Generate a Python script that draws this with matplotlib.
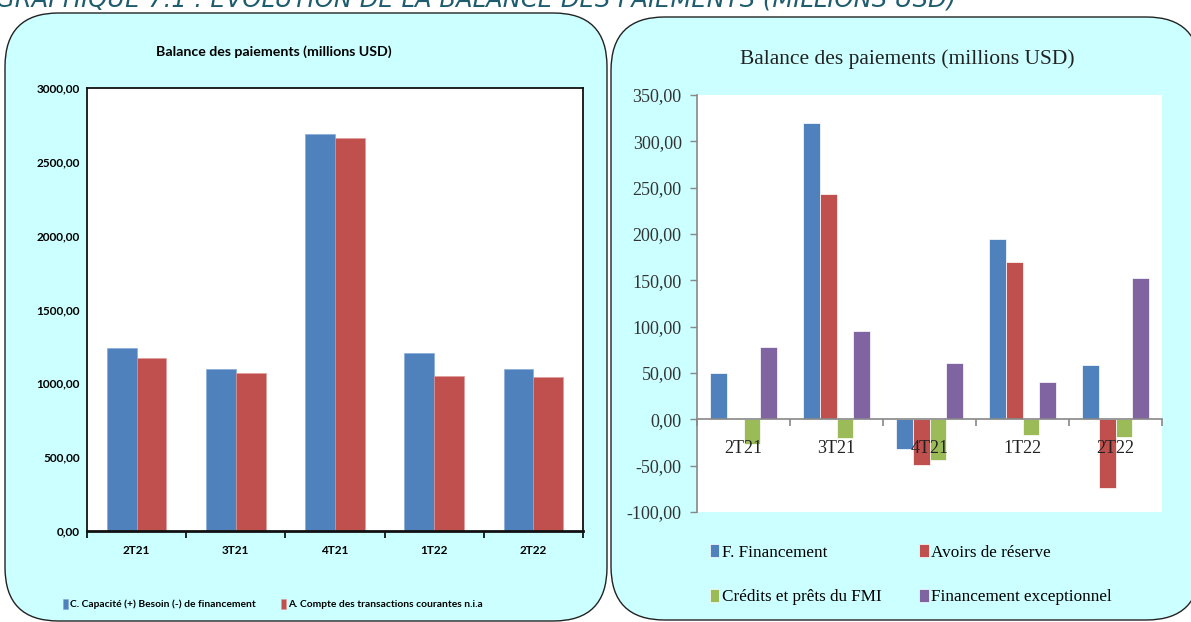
import matplotlib
matplotlib.use('Agg')
import matplotlib.pyplot as plt
from matplotlib.patches import FancyBboxPatch
import numpy as np

# ── Data ──────────────────────────────────────────────────────
quarters = ['2T21', '3T21', '4T21', '1T22', '2T22']

capacite = [1241, 1099, 2687, 1205, 1096]
compte_courant = [1171, 1067, 2664, 1047, 1042]

f_financement = [50.4, 319.4, -31.7, 194.1, 58.7]
avoirs_reserve = [0.0, 243.4, -49.3, 170.3, -74.2]
credits_fmi = [-26.3, -20.2, -43.6, -16.6, -19.1]
fin_exceptionnel = [78.1, 95.1, 60.9, 40.3, 152.0]

left_ticks = [0, 500, 1000, 1500, 2000, 2500, 3000]
right_ticks = [-100, -50, 0, 50, 100, 150, 200, 250, 300, 350]

# ── Style ─────────────────────────────────────────────────────
BLUE, RED, GREEN, PURPLE = '#4F81BD', '#C0504D', '#9BBB59', '#8064A2'
PANEL = '#CCFFFF'
W, H = 1191, 622

def fx(px): return px / W
def fy(py): return 1 - py / H

fig = plt.figure(figsize=(W / 100, H / 100), dpi=100, facecolor='white')

# header text, cut at the top edge as in the source page
fig.text(fx(-4), fy(6), 'GRAPHIQUE 7.1 : EVOLUTION DE LA BALANCE DES PAIEMENTS (MILLIONS USD)',
         fontsize=17.5, style='italic', color='#1F5C6E', family='DejaVu Sans',
         ha='left', va='baseline')

# rounded panels
for x0, y0, x1, y1 in [(5, 13, 607, 621), (611, 17, 1200, 620)]:
    fig.patches.append(FancyBboxPatch(
        (fx(x0), fy(y1)), fx(x1 - x0), (y1 - y0) / H,
        boxstyle='round,pad=0,rounding_size=0.045', transform=fig.transFigure,
        facecolor=PANEL, edgecolor='#222222', linewidth=1.0, zorder=-5,
        mutation_aspect=W / H))

x = np.arange(len(quarters))

# ── Left chart ────────────────────────────────────────────────
SANS = ['Lato', 'DejaVu Sans']
axl = fig.add_axes([fx(87), fy(531), fx(583 - 87), (531 - 88) / H])
axl.set_facecolor('white')
axl.bar(x - 0.15, capacite, 0.3, color=BLUE, edgecolor='#7fa6d6', linewidth=0.4,
        label='C. Capacité (+) Besoin (-) de financement')
axl.bar(x + 0.15, compte_courant, 0.3, color=RED, edgecolor='#e09a98', linewidth=0.4,
        label='A. Compte des transactions courantes n.i.a')
axl.set_xlim(-0.5, 4.5)
axl.set_ylim(0, 3000)
axl.set_yticks(left_ticks)
axl.set_yticklabels([f'{v:.2f}'.replace('.', ',') for v in left_ticks],
                    fontsize=8.5, fontweight='bold', family=SANS)
axl.tick_params(axis='y', length=0, pad=5)
axl.set_xticks(x)
axl.set_xticklabels(quarters, fontsize=8.5, fontweight='bold', family=SANS)
axl.tick_params(axis='x', which='major', length=0, pad=10)
axl.set_xticks(np.arange(-0.5, 5, 1), minor=True)
axl.tick_params(axis='x', which='minor', length=5, width=1.2, color='black', direction='out')
for s in axl.spines.values():
    s.set_color('#111111')
    s.set_linewidth(1.3)
axl.spines['bottom'].set_linewidth(2)
fig.text(fx(274), fy(52), 'Balance des paiements (millions USD)', fontsize=10.2,
         fontweight='bold', family=SANS, ha='center', va='center')
axl.legend(loc='center', bbox_to_anchor=(0.375, -0.165), ncol=2, frameon=False,
           prop={'family': SANS, 'weight': 'bold', 'size': 7.4},
           handlelength=0.55, handleheight=1.1, handletextpad=0.2, columnspacing=2.4)

# ── Right chart ───────────────────────────────────────────────
SERIF = ['Liberation Serif', 'DejaVu Serif']
axr = fig.add_axes([fx(697), fy(512), fx(1162 - 697), (512 - 95) / H])
axr.set_facecolor('white')
axr.set_axisbelow(False)
bw = 0.18
series = [
    (f_financement, BLUE, 'F. Financement'),
    (avoirs_reserve, RED, 'Avoirs de réserve'),
    (credits_fmi, GREEN, 'Crédits et prêts du FMI'),
    (fin_exceptionnel, PURPLE, 'Financement exceptionnel'),
]
handles = {}
for i, (vals, col, lab) in enumerate(series):
    handles[lab] = axr.bar(x + (i - 1.5) * bw, vals, bw, color=col,
                           edgecolor='white', linewidth=0.5, label=lab, zorder=2)
axr.set_xlim(-0.5, 4.5)
axr.set_ylim(-100, 350)
axr.set_yticks(right_ticks)
axr.set_yticklabels([f'{v:.2f}'.replace('.', ',') for v in right_ticks],
                    fontsize=13, family=SERIF, color='#333333')
axr.tick_params(axis='y', length=5, width=1, color='#888888', direction='out', pad=6)
axr.spines['top'].set_visible(False)
axr.spines['right'].set_visible(False)
axr.spines['left'].set_color('#888888')
axr.spines['left'].set_linewidth(1.2)
axr.spines['bottom'].set_position(('data', 0))
axr.spines['bottom'].set_color('#888888')
axr.spines['bottom'].set_linewidth(1.2)
axr.set_xticks(x)
axr.set_xticklabels(quarters, fontsize=13, family=SERIF, color='#222222')
axr.tick_params(axis='x', which='major', length=0, pad=15)
axr.set_xticks(np.arange(-0.5, 5, 1), minor=True)
axr.tick_params(axis='x', which='minor', length=5, width=1.2, color='#888888', direction='out')
fig.text(fx(907), fy(59), 'Balance des paiements (millions USD)', fontsize=15.5, family=SERIF,
         color='#222222', ha='center', va='center')
order = ['F. Financement', 'Crédits et prêts du FMI', 'Avoirs de réserve', 'Financement exceptionnel']
axr.legend([handles[k] for k in order], order, loc='upper left',
           bbox_to_anchor=(-0.005, -0.04), ncol=2, frameon=False,
           prop={'family': SERIF, 'size': 12.3}, handlelength=0.55, handleheight=0.8,
           handletextpad=0.15, columnspacing=2.2, labelspacing=1.65)

fig.savefig('out.png', dpi=100, facecolor='white')
